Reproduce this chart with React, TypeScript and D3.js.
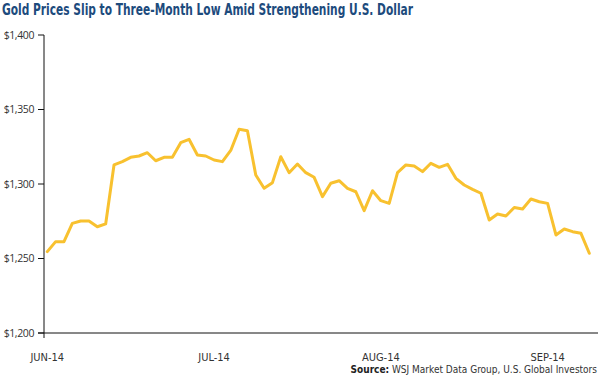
import React from "react";
import * as d3 from "d3";

const title = "Gold Prices Slip to Three-Month Low Amid Strengthening U.S. Dollar";
const prices: number[] = [
  1254.6, 1261.3, 1261.3, 1273.6, 1275.2, 1275.2, 1271.3, 1273.2, 1312.8, 1315.0,
  1317.9, 1318.8, 1321.0, 1315.6, 1317.9, 1317.9, 1327.7, 1330.0, 1319.5, 1318.8,
  1316.1, 1315.0, 1322.5, 1336.7, 1335.8, 1306.0, 1297.1, 1300.9, 1318.3, 1307.6,
  1313.4, 1307.6, 1304.5, 1291.5, 1300.5, 1302.2, 1297.1, 1294.8, 1282.1, 1295.5,
  1288.8, 1287.0, 1307.6, 1312.8, 1312.1, 1308.3, 1313.9, 1311.2, 1313.2, 1303.8,
  1299.3, 1296.4, 1293.8, 1275.8, 1279.9, 1278.5, 1284.2, 1283.2, 1289.9, 1288.1,
  1287.0, 1265.8, 1269.8, 1268.0, 1266.9, 1253.5,
];
const monthLabels = ["JUN-14", "JUL-14", "AUG-14", "SEP-14"];
const monthIndex = [0, 20, 40, 60];
const yTicks = [1200, 1250, 1300, 1350, 1400];

export default function App() {
  const W = 600, H = 381;
  const x = d3.scaleLinear().domain([0, prices.length - 1]).range([47.3, 589.3]);
  const y = d3.scaleLinear().domain([1200, 1400]).range([333, 35]);
  const line = d3.line<number>().x((_, i) => x(i)).y((d) => y(d));
  const fmt = d3.format("$,");
  const axisColor = "#111";
  const labelColor = "#333";
  return (
    <svg width={W} height={H} style={{ position: "absolute", left: 0, top: 0, background: "#fff" }}
      fontFamily="'Liberation Sans Narrow', 'DejaVu Sans Condensed', Roboto, sans-serif">
      <text x={2} y={15} fontSize={15} fontWeight="bold" fill="#1d4b7d"
        textLength={411} lengthAdjust="spacingAndGlyphs">{title}</text>
      {yTicks.map((t) => (
        <g key={t}>
          <line x1={38} x2={44} y1={y(t)} y2={y(t)} stroke={axisColor} strokeWidth={1} />
          <text x={34} y={y(t)} dy="0.35em" textAnchor="end" fontSize={10.5} fill={labelColor}
            fontFamily="'Open Sans', 'Noto Sans', sans-serif" letterSpacing={-0.4}>{fmt(t)}</text>
        </g>
      ))}
      <line x1={44} x2={44} y1={35} y2={338} stroke={axisColor} strokeWidth={1} />
      <line x1={38} x2={598} y1={y(1200)} y2={y(1200)} stroke={axisColor} strokeWidth={1} />
      {monthLabels.map((m, i) => (
        <text key={m} x={x(monthIndex[i])} y={361} textAnchor="middle" fontSize={11} fill={labelColor}>{m}</text>
      ))}
      <path d={line(prices) || ""} fill="none" stroke="#f8c12f" strokeWidth={3} strokeLinejoin="round" strokeLinecap="round" />
      <text x={597} y={373} textAnchor="end" fontSize={10} fill={labelColor}>
        <tspan fontWeight="bold" fill="#222">Source:</tspan> WSJ Market Data Group, U.S. Global Investors
      </text>
    </svg>
  );
}
